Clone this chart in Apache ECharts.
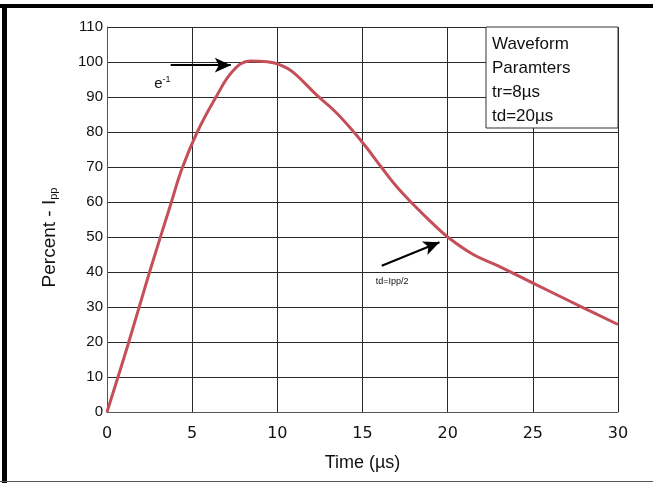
<!DOCTYPE html>
<html>
<head>
<meta charset="utf-8">
<script src="https://cdn.jsdelivr.net/npm/echarts@6/dist/echarts.min.js"></script>
<style>
  html, body { margin: 0; padding: 0; background: #fff; }
  #chart { width: 653px; height: 483px; }
</style>
</head>
<body>
<div id="chart"></div>
<script>
// 波形 (时间 µs, 百分比 Ipp)
const timeUs = [0, 1.25, 2.5, 3.75, 4.4, 5.3, 6.4, 7.4, 8.4, 9.4, 10.1, 10.9,
  12.3, 13.3, 14.3, 15.2, 16.1, 17, 18, 19, 20, 21.5, 22.9, 25.1, 28, 30]
const percent = [0, 19.5, 40, 59.5, 69.5, 80, 90, 97.5, 100.3, 100.1, 99.3, 97.2,
  90.6, 86.3, 81.1, 75.8, 70, 64.4, 59.2, 54.4, 50, 45, 41.9, 36.6, 29.7, 25]

const xTicks = [0, 5, 10, 15, 20, 25, 30]
const yTicks = [0, 10, 20, 30, 40, 50, 60, 70, 80, 90, 100, 110]

// 注释箭头: [起点, 终点]
const peakArrow = [[3.74, 99.1], [7.27, 99.1]]
const halfArrow = [[16.13, 41.8], [19.52, 48.5]]
const legendLines = ['Waveform', 'Paramters', 'tr=8µs', 'td=20µs']

const font = 'Liberation Sans, Arial, sans-serif'
const gridColor = '#2a2a2a'

const chart = echarts.init(document.getElementById('chart'))

chart.setOption({
  animation: false,
  backgroundColor: '#fff',
  grid: { left: 107, right: 35, top: 27, bottom: 71 },
  xAxis: {
    type: 'value',
    min: xTicks[0],
    max: xTicks[xTicks.length - 1],
    interval: 5,
    name: 'Time (µs)',
    nameLocation: 'middle',
    nameGap: 42,
    nameTextStyle: { fontFamily: font, fontSize: 18, color: '#111' },
    axisLine: { show: true, lineStyle: { color: '#555', width: 1 } },
    axisTick: { show: false },
    axisLabel: { fontFamily: 'DejaVu Sans', fontSize: 16, color: '#111', margin: 14 },
    splitLine: { show: true, lineStyle: { color: gridColor, width: 1 } }
  },
  yAxis: {
    type: 'value',
    min: yTicks[0],
    max: yTicks[yTicks.length - 1],
    interval: 10,
    name: '{a|Percent - I}{s|pp}',
    nameLocation: 'middle',
    nameGap: 48,
    nameTextStyle: {
      padding: [0, 36, 0, 0],
      rich: {
        a: { fontFamily: font, fontSize: 19, color: '#111' },
        s: { fontFamily: font, fontSize: 11, color: '#111', padding: [8, 0, 0, 0] }
      }
    },
    axisLine: { show: true, lineStyle: { color: '#555', width: 1 } },
    axisTick: { show: false },
    axisLabel: { fontFamily: font, fontSize: 15, color: '#111', margin: 4 },
    splitLine: { show: true, lineStyle: { color: gridColor, width: 1 } }
  },
  series: [{
    type: 'line',
    data: timeUs.map((t, i) => [t, percent[i]]),
    smooth: 0.4,
    showSymbol: false,
    lineStyle: { color: '#c44f58', width: 3 },
    markLine: {
      silent: true,
      symbol: ['none', 'arrow'],
      symbolSize: [11, 16],
      lineStyle: { color: '#000', width: 2, type: 'solid' },
      label: { show: false },
      data: [
        [{ coord: peakArrow[0] }, { coord: peakArrow[1] }],
        [{ coord: halfArrow[0] }, { coord: halfArrow[1] }]
      ]
    },
    markPoint: {
      silent: true,
      symbol: 'rect',
      symbolSize: 1,
      itemStyle: { color: 'rgba(0,0,0,0)' },
      data: [
        {
          coord: [3.25, 93.8],
          label: {
            show: true, position: 'inside',
            formatter: '{e|e}{p|-1}',
            rich: {
              e: { fontFamily: font, fontSize: 15, color: '#111' },
              p: { fontFamily: font, fontSize: 9, color: '#111', padding: [0, 0, 9, 0] }
            }
          }
        },
        {
          coord: [16.74, 37.2],
          label: { show: true, position: 'inside', formatter: 'td=Ipp/2', fontFamily: font, fontSize: 9, color: '#111' }
        }
      ]
    }
  }],
  graphic: [
    // 外框: 上, 左, 下
    { type: 'rect', shape: { x: 0, y: 4, width: 653, height: 4 }, style: { fill: '#000' }, silent: true },
    { type: 'rect', shape: { x: 2, y: 4, width: 5, height: 479 }, style: { fill: '#000' }, silent: true },
    { type: 'rect', shape: { x: 0, y: 481, width: 653, height: 1 }, style: { fill: '#555' }, silent: true },
    // 参数框
    {
      type: 'rect', z: 10, silent: true,
      shape: { x: 486, y: 27, width: 132, height: 101 },
      style: { fill: '#fff', stroke: '#333', lineWidth: 1 }
    },
    {
      type: 'text', z: 11, silent: true, left: 492, top: 32,
      style: {
        text: legendLines.join('\n'),
        font: '17px ' + font,
        lineHeight: 24,
        fill: '#111'
      }
    }
  ]
})
</script>
</body>
</html>
